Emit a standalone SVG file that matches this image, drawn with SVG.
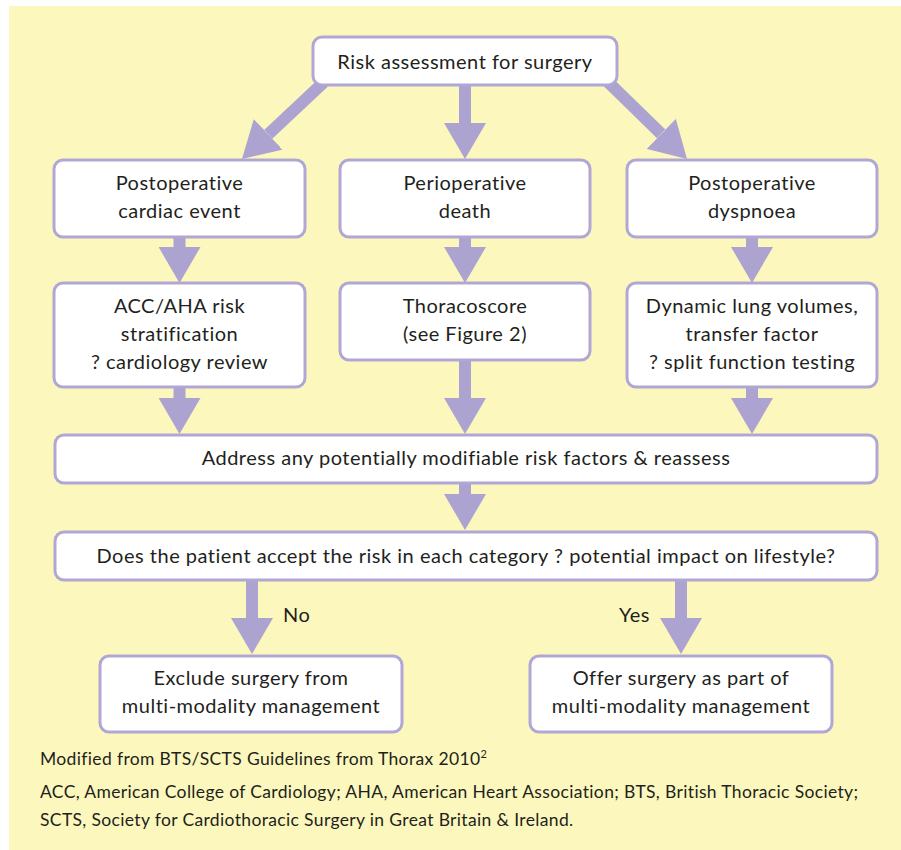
<svg xmlns="http://www.w3.org/2000/svg" width="901" height="850" viewBox="0 0 901 850">
<style>
  .bg { fill: #FCF8BD; }
  .box { fill: #FFFFFF; stroke: #B1A7D5; stroke-width: 3; }
  .t { font-family: Lato, "Open Sans", sans-serif; font-size: 20px; letter-spacing: 0.5px; fill: #231F20; text-anchor: middle; }
  .lbl { font-family: Lato, "Open Sans", sans-serif; font-size: 20px; letter-spacing: 0.5px; fill: #231F20; }
  .fn { font-family: Lato, "Open Sans", sans-serif; font-size: 17.5px; letter-spacing: 0.35px; fill: #231F20; }
  .sh { stroke: #ADA3D0; stroke-width: 12; fill: none; marker-end: url(#ah); }
</style>
<defs>
  <marker id="ah" markerUnits="userSpaceOnUse" markerWidth="36" markerHeight="42" refX="0" refY="21" orient="auto" viewBox="0 0 36 42">
    <path d="M0,0 L36,21 L0,42 z" fill="#ADA3D0"/>
  </marker>
</defs>
<rect class="bg" x="9" y="6" width="892" height="844"/>
<g id="connectors">
  <line class="sh" x1="323.6" y1="82.4" x2="268.2" y2="134.4"/>
  <line class="sh" x1="465" y1="84" x2="465" y2="123"/>
  <line class="sh" x1="607.5" y1="81.5" x2="661.2" y2="133.9"/>
  <line class="sh" x1="179.5" y1="236" x2="179.5" y2="247"/>
  <line class="sh" x1="465" y1="236" x2="465" y2="247"/>
  <line class="sh" x1="752" y1="236" x2="752" y2="247"/>
  <line class="sh" x1="179.5" y1="386" x2="179.5" y2="398"/>
  <line class="sh" x1="465" y1="359" x2="465" y2="398"/>
  <line class="sh" x1="752" y1="386" x2="752" y2="398"/>
  <line class="sh" x1="465" y1="482" x2="465" y2="494"/>
  <line class="sh" x1="252" y1="580" x2="252" y2="618"/>
  <line class="sh" x1="681" y1="580" x2="681" y2="618"/>
  <text class="lbl" x="283" y="622">No</text>
  <text class="lbl" x="619" y="622">Yes</text>
</g>
<g id="n-risk">
  <rect class="box" x="313" y="37" width="304" height="48" rx="9"/>
  <text class="t" x="465" y="69">Risk assessment for surgery</text>
</g>
<g id="n-cardiac">
  <rect class="box" x="54" y="160" width="251" height="77" rx="9"/>
  <text class="t" x="179.5" y="190">Postoperative</text>
  <text class="t" x="179.5" y="218">cardiac event</text>
</g>
<g id="n-death">
  <rect class="box" x="340" y="160" width="250" height="77" rx="9"/>
  <text class="t" x="465" y="190">Perioperative</text>
  <text class="t" x="465" y="218">death</text>
</g>
<g id="n-dyspnoea">
  <rect class="box" x="627" y="160" width="250" height="77" rx="9"/>
  <text class="t" x="752" y="190">Postoperative</text>
  <text class="t" x="752" y="218">dyspnoea</text>
</g>
<g id="n-acc">
  <rect class="box" x="54" y="283" width="251" height="104" rx="9"/>
  <text class="t" x="179.5" y="313">ACC/AHA risk</text>
  <text class="t" x="179.5" y="341">stratification</text>
  <text class="t" x="179.5" y="369">? cardiology review</text>
</g>
<g id="n-thoraco">
  <rect class="box" x="340" y="283" width="250" height="77" rx="9"/>
  <text class="t" x="465" y="313">Thoracoscore</text>
  <text class="t" x="465" y="341">(see Figure 2)</text>
</g>
<g id="n-lung">
  <rect class="box" x="627" y="283" width="250" height="104" rx="9"/>
  <text class="t" x="752" y="313">Dynamic lung volumes,</text>
  <text class="t" x="752" y="341">transfer factor</text>
  <text class="t" x="752" y="369">? split function testing</text>
</g>
<g id="n-address">
  <rect class="box" x="55" y="435" width="822" height="48" rx="9"/>
  <text class="t" x="466" y="465">Address any potentially modifiable risk factors &amp; reassess</text>
</g>
<g id="n-accept">
  <rect class="box" x="55" y="532" width="822" height="48" rx="9"/>
  <text class="t" x="466" y="563">Does the patient accept the risk in each category ? potential impact on lifestyle?</text>
</g>
<g id="n-exclude">
  <rect class="box" x="100" y="656" width="302" height="76" rx="9"/>
  <text class="t" x="251" y="685">Exclude surgery from</text>
  <text class="t" x="251" y="713">multi-modality management</text>
</g>
<g id="n-offer">
  <rect class="box" x="530" y="656" width="302" height="76" rx="9"/>
  <text class="t" x="681" y="685">Offer surgery as part of</text>
  <text class="t" x="681" y="713">multi-modality management</text>
</g>
<g id="footnotes">
  <text class="fn" x="40" y="765">Modified from BTS/SCTS Guidelines from Thorax 2010<tspan font-size="11" dy="-7">2</tspan></text>
  <text class="fn" x="40" y="798">ACC, American College of Cardiology; AHA, American Heart Association; BTS, British Thoracic Society;</text>
  <text class="fn" x="40" y="826">SCTS, Society for Cardiothoracic Surgery in Great Britain &amp; Ireland.</text>
</g>
</svg>
